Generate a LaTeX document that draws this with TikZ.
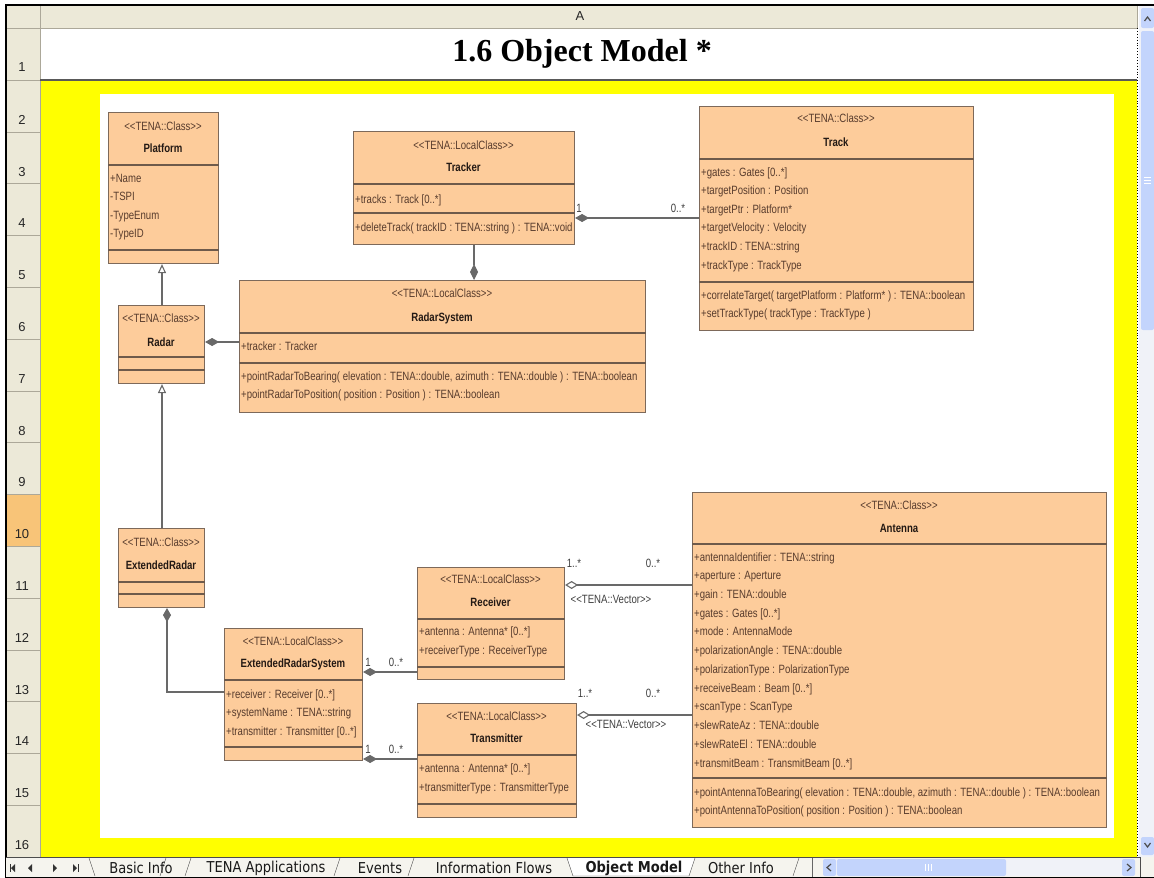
\documentclass[tikz,border=0pt]{standalone}
\usepackage{fontspec}
\setmainfont{Liberation Sans}
\newfontfamily\umlf[FakeStretch=0.8,Ligatures=TeXOff]{Liberation Sans}
\newfontfamily\titlef{Liberation Serif}
\newfontfamily\tabf[FakeStretch=0.87]{DejaVu Sans}
\usetikzlibrary{arrows.meta}
\definecolor{hdr}{RGB}{236,233,216}
\definecolor{hdrline}{RGB}{172,168,153}
\definecolor{rowsel}{RGB}{248,196,120}
\definecolor{yel}{RGB}{255,255,0}
\definecolor{boxfill}{RGB}{253,204,155}
\definecolor{boxline}{RGB}{125,105,90}
\definecolor{sepline}{RGB}{110,90,75}
\definecolor{umltext}{RGB}{88,60,45}
\definecolor{umlname}{RGB}{35,25,20}
\definecolor{connc}{RGB}{105,105,105}
\definecolor{sbfill}{RGB}{195,212,252}
\definecolor{sbtrack}{RGB}{240,242,248}
\definecolor{tabbar}{RGB}{245,244,238}
\begin{document}
\begin{tikzpicture}[x=1pt,y=-1pt,
  cls/.style={draw=boxline, fill=boxfill, line width=1.1pt, anchor=north west, inner sep=0pt},
  sep/.style={draw=sepline, line width=1.1pt},
  stereo/.style={font=\umlf\fontsize{12}{14}\selectfont, text=umltext, inner sep=0pt, text height=9pt, text depth=1pt},
  cname/.style={font=\umlf\bfseries\fontsize{12}{14}\selectfont, text=umlname, inner sep=0pt, text height=9pt, text depth=1pt},
  attr/.style={stereo, anchor=west},
  mult/.style={font=\umlf\fontsize{12}{14}\selectfont, text=black!75, inner sep=0pt, text height=9pt, text depth=1pt},
  conn/.style={draw=connc, line width=1.1pt},
  comp/.style={conn, {Diamond[length=14pt,width=8pt]}-},
  aggr/.style={conn, {Diamond[open,fill=white,length=13pt,width=8pt]}-},
  gen/.style={conn, -{Triangle[open,fill=white,length=9pt,width=8pt]}},
  rownum/.style={font=\fontsize{13}{15}\selectfont, text=black!85, inner sep=0pt},
  tabtxt/.style={font=\tabf\fontsize{15}{17}\selectfont, inner sep=0pt, text=black!90},
  navtri/.style={fill=black!80},
]
\useasboundingbox (0,0) rectangle (1154,878);
% ---------- spreadsheet frame ----------
\fill[white] (0,0) rectangle (1154,878);
\fill[hdr] (6,5) rectangle (1138,28);
\fill[hdr] (6,28) rectangle (40,857);
\fill[rowsel] (6,{80+51.8*8}) rectangle (40,{80+51.8*9});
\fill[white] (40,28) rectangle (1137,80);
\fill[yel] (40,80) rectangle (1137,857);
\fill[white] (100,94) rectangle (1114,838);
\draw[hdrline] (6,28) -- (1137,28);
\draw[hdrline] (40,5) -- (40,857);
\draw[hdrline] (1137,5) -- (1137,28);
\foreach \k in {0,...,14} \draw[hdrline] (6,{80+51.8*\k}) -- (40,{80+51.8*\k});
\draw[black!65, line width=1.5pt] (40,80) -- (1137,80);
\draw[black, dotted, line width=0.9pt] (1137,28) -- (1137,857);
\node[rownum] (r1) at (22,67) {1};
\foreach \k in {2,...,16} \node[rownum] (r\k) at (22,{80+51.8*(\k-1)-12}) {\k};
\node[rownum] (colA) at (580,16) {A};
\node[font=\titlef\bfseries\fontsize{32}{36}\selectfont, inner sep=0pt] (title) at (582,54) {1.6 Object Model *};
% vertical scrollbar
\fill[sbtrack] (1139,5) rectangle (1154,857);
\fill[sbfill, rounded corners=2pt] (1141,8) rectangle (1154,28);
\draw[black!70, line width=1.2pt] (1144.5,21) -- (1147.5,17) -- (1150.5,21);
\fill[sbfill, rounded corners=2pt] (1141,31) rectangle (1154,330);
\foreach \yy in {177,180,183} \draw[white, line width=0.8pt] (1144,\yy) -- (1151,\yy);
\fill[sbfill, rounded corners=2pt] (1141,837) rectangle (1154,855);
\draw[black!70, line width=1.2pt] (1144.5,843) -- (1147.5,847) -- (1150.5,843);
% outer frame
\draw[black, line width=1.2pt] (6,878) -- (6,5) -- (1154,5);
% ---------- sheet tabs bar ----------
\fill[tabbar] (6,857) rectangle (1154,878);
\draw[black!70] (6,857.5) -- (1140,857.5);
\fill[white] (567,858) -- (695,858) -- (689,876) -- (573,876) -- cycle;
\draw[black!70] (567,858) -- (573,876) -- (689,876) -- (695,858);
\foreach \xx in {188,337,411,796} \draw[black!70] (\xx-3,876) -- (\xx+3,858);
\draw[black!70] (89,858) -- (95,876);
\draw[black!70] (160,876) -- (166,858);
\node[tabtxt] (t1) at (141,868) {Basic Info};
\node[tabtxt] (t2) at (266,868) {TENA Applications};
\node[tabtxt] (t3) at (380,868) {Events};
\node[tabtxt] (t4) at (494,868) {Information Flows};
\node[tabtxt, font=\tabf\bfseries\fontsize{15}{17}\selectfont] (t5) at (634,868) {Object Model};
\node[tabtxt] (t6) at (741,868) {Other Info};
\draw[black!80, line width=1pt] (10,864) -- (10,872);
\fill[navtri] (15,864) -- (15,872) -- (11,868) -- cycle;
\fill[navtri] (32,864) -- (32,872) -- (28,868) -- cycle;
\fill[navtri] (53,864) -- (53,872) -- (57,868) -- cycle;
\fill[navtri] (73,864) -- (73,872) -- (77,868) -- cycle;
\draw[black!80, line width=1pt] (78,864) -- (78,872);
\draw[black!60] (812,858) -- (812,877);
\fill[sbtrack] (823,859) rectangle (1135,876);
\fill[sbfill, rounded corners=2pt] (823,859) rectangle (836,876);
\draw[black!70, line width=1.2pt] (831,864) -- (827,867.5) -- (831,871);
\fill[sbfill, rounded corners=2pt] (837,859) rectangle (1006,876);
\foreach \xx in {925,928,931} \draw[white, line width=0.8pt] (\xx,864) -- (\xx,871);
\fill[sbfill, rounded corners=2pt] (1122,859) rectangle (1135,876);
\draw[black!70, line width=1.2pt] (1127,864) -- (1131,867.5) -- (1127,871);
\draw[black!70] (1140,857) -- (1140,878);
\draw[black, line width=1pt] (6,877.5) -- (1154,877.5);
% ---------- UML classes ----------
% Platform
\node[cls, minimum width=110pt, minimum height=151pt] (platform) at (108,112) {};
\draw[sep] (platform.west |- 0,165) -- (platform.east |- 0,165);
\draw[sep] (platform.west |- 0,250) -- (platform.east |- 0,250);
\node[stereo] (platform-s) at (163,126) {<<TENA::Class>>};
\node[cname] (platform-n) at (163,148) {Platform};
\foreach \t [count=\i] in {{+Name},{-TSPI},{-TypeEnum},{-TypeID}}
  \node[attr] (platform-a\i) at (110,{178+18.5*(\i-1)}) {\t};
% Tracker
\node[cls, minimum width=221pt, minimum height=113pt] (tracker) at (353,131) {};
\draw[sep] (tracker.west |- 0,184) -- (tracker.east |- 0,184);
\draw[sep] (tracker.west |- 0,213) -- (tracker.east |- 0,213);
\node[stereo] (tracker-s) at (463.5,145) {<<TENA::LocalClass>>};
\node[cname] (tracker-n) at (463.5,167) {Tracker};
\node[attr] (tracker-a1) at (355,199) {+tracks : Track [0..*]};
\node[attr] (tracker-o1) at (355,227) {+deleteTrack( trackID : TENA::string ) : TENA::void};
% Track
\node[cls, minimum width=274pt, minimum height=224pt] (track) at (699,106) {};
\draw[sep] (track.west |- 0,159) -- (track.east |- 0,159);
\draw[sep] (track.west |- 0,282) -- (track.east |- 0,282);
\node[stereo] (track-s) at (836,118) {<<TENA::Class>>};
\node[cname] (track-n) at (836,142) {Track};
\foreach \t [count=\i] in {{+gates : Gates [0..*]},{+targetPosition : Position},{+targetPtr : Platform*},{+targetVelocity : Velocity},{+trackID : TENA::string},{+trackType : TrackType}}
  \node[attr] (track-a\i) at (701,{172+18.6*(\i-1)}) {\t};
\node[attr] (track-o1) at (701,295) {+correlateTarget( targetPlatform : Platform* ) : TENA::boolean};
\node[attr] (track-o2) at (701,313) {+setTrackType( trackType : TrackType )};
% Radar
\node[cls, minimum width=86pt, minimum height=78pt] (radar) at (118,305) {};
\draw[sep] (radar.west |- 0,357) -- (radar.east |- 0,357);
\draw[sep] (radar.west |- 0,370) -- (radar.east |- 0,370);
\node[stereo] (radar-s) at (161,318) {<<TENA::Class>>};
\node[cname] (radar-n) at (161,342) {Radar};
% RadarSystem
\node[cls, minimum width=406pt, minimum height=132pt] (radarsys) at (239,280) {};
\draw[sep] (radarsys.west |- 0,333) -- (radarsys.east |- 0,333);
\draw[sep] (radarsys.west |- 0,363) -- (radarsys.east |- 0,363);
\node[stereo] (radarsys-s) at (442,293) {<<TENA::LocalClass>>};
\node[cname] (radarsys-n) at (442,317) {RadarSystem};
\node[attr] (radarsys-a1) at (241,346) {+tracker : Tracker};
\node[attr] (radarsys-o1) at (241,376) {+pointRadarToBearing( elevation : TENA::double, azimuth : TENA::double ) : TENA::boolean};
\node[attr] (radarsys-o2) at (241,394) {+pointRadarToPosition( position : Position ) : TENA::boolean};
% ExtendedRadar
\node[cls, minimum width=86pt, minimum height=79pt] (extradar) at (118,528) {};
\draw[sep] (extradar.west |- 0,582) -- (extradar.east |- 0,582);
\draw[sep] (extradar.west |- 0,594) -- (extradar.east |- 0,594);
\node[stereo] (extradar-s) at (161,542) {<<TENA::Class>>};
\node[cname] (extradar-n) at (161,565) {ExtendedRadar};
% ExtendedRadarSystem
\node[cls, minimum width=138pt, minimum height=132pt] (ers) at (224,628) {};
\draw[sep] (ers.west |- 0,680) -- (ers.east |- 0,680);
\draw[sep] (ers.west |- 0,747) -- (ers.east |- 0,747);
\node[stereo] (ers-s) at (293,641) {<<TENA::LocalClass>>};
\node[cname] (ers-n) at (293,663) {ExtendedRadarSystem};
\foreach \t [count=\i] in {{+receiver : Receiver [0..*]},{+systemName : TENA::string},{+transmitter : Transmitter [0..*]}}
  \node[attr] (ers-a\i) at (226,{694+18.5*(\i-1)}) {\t};
% Receiver
\node[cls, minimum width=147pt, minimum height=112pt] (receiver) at (417,567) {};
\draw[sep] (receiver.west |- 0,619) -- (receiver.east |- 0,619);
\draw[sep] (receiver.west |- 0,667) -- (receiver.east |- 0,667);
\node[stereo] (receiver-s) at (490.5,579) {<<TENA::LocalClass>>};
\node[cname] (receiver-n) at (490.5,602) {Receiver};
\node[attr] (receiver-a1) at (419,631) {+antenna : Antenna* [0..*]};
\node[attr] (receiver-a2) at (419,650) {+receiverType : ReceiverType};
% Transmitter
\node[cls, minimum width=159pt, minimum height=114pt] (transmitter) at (417,703) {};
\draw[sep] (transmitter.west |- 0,755) -- (transmitter.east |- 0,755);
\draw[sep] (transmitter.west |- 0,804) -- (transmitter.east |- 0,804);
\node[stereo] (transmitter-s) at (496.5,716) {<<TENA::LocalClass>>};
\node[cname] (transmitter-n) at (496.5,738) {Transmitter};
\node[attr] (transmitter-a1) at (419,768) {+antenna : Antenna* [0..*]};
\node[attr] (transmitter-a2) at (419,787) {+transmitterType : TransmitterType};
% Antenna
\node[cls, minimum width=414pt, minimum height=335pt] (antenna) at (692,492) {};
\draw[sep] (antenna.west |- 0,544) -- (antenna.east |- 0,544);
\draw[sep] (antenna.west |- 0,778) -- (antenna.east |- 0,778);
\node[stereo] (antenna-s) at (899,505) {<<TENA::Class>>};
\node[cname] (antenna-n) at (899,528) {Antenna};
\foreach \t [count=\i] in {{+antennaIdentifier : TENA::string},{+aperture : Aperture},{+gain : TENA::double},{+gates : Gates [0..*]},{+mode : AntennaMode},{+polarizationAngle : TENA::double},{+polarizationType : PolarizationType},{+receiveBeam : Beam [0..*]},{+scanType : ScanType},{+slewRateAz : TENA::double},{+slewRateEl : TENA::double},{+transmitBeam : TransmitBeam [0..*]}}
  \node[attr] (antenna-a\i) at (694,{557+18.73*(\i-1)}) {\t};
\node[attr] (antenna-o1) at (694,792) {+pointAntennaToBearing( elevation : TENA::double, azimuth : TENA::double ) : TENA::boolean};
\node[attr] (antenna-o2) at (694,810) {+pointAntennaToPosition( position : Position ) : TENA::boolean};
% ---------- connectors ----------
\draw[gen] (radar.north -| 162,0) -- (platform.south -| 162,0);
\draw[gen] (extradar.north -| 162,0) -- (radar.south -| 162,0);
\draw[comp] (radar.east |- 0,342) -- (radarsys.west |- 0,342);
\draw[comp] (tracker.east |- 0,218) -- (track.west |- 0,218);
\draw[conn, -{Diamond[length=16pt,width=8pt]}] (tracker.south -| 474,0) -- (radarsys.north -| 474,0);
\draw[comp] (extradar.south -| 167,0) |- (ers.west |- 0,692);
\draw[comp] (ers.east |- 0,672) -- (receiver.west |- 0,672);
\draw[comp] (ers.east |- 0,759) -- (transmitter.west |- 0,759);
\draw[aggr] (receiver.east |- 0,585) -- (antenna.west |- 0,585);
\draw[aggr] (transmitter.east |- 0,715) -- (antenna.west |- 0,715);
\node[mult] (m1) at (579,208) {1};
\node[mult] (m2) at (678,208) {0..*};
\node[mult] (m3) at (368,662) {1};
\node[mult] (m4) at (396,662) {0..*};
\node[mult] (m5) at (368,749) {1};
\node[mult] (m6) at (396,749) {0..*};
\node[mult] (m7) at (574,563) {1..*};
\node[mult] (m8) at (653,563) {0..*};
\node[mult] (v1) at (611,599) {<<TENA::Vector>>};
\node[mult] (m9) at (585,693) {1..*};
\node[mult] (m10) at (653,693) {0..*};
\node[mult] (v2) at (626,724) {<<TENA::Vector>>};
\end{tikzpicture}
\end{document}
